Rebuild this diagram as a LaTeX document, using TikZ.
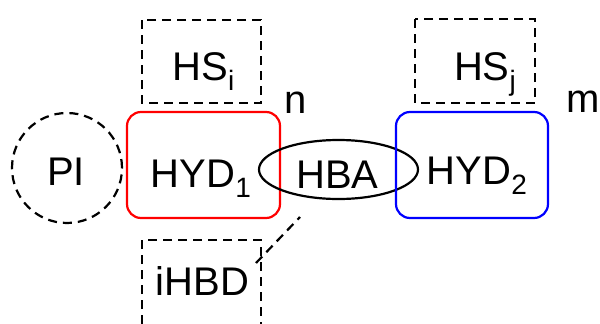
\documentclass[tikz,border=0pt]{standalone}
\usepackage{fontspec}
\setmainfont{Liberation Sans}
\usetikzlibrary{calc}
\newcommand{\lowsub}[1]{\raisebox{-10pt}{\fontsize{28}{28}\selectfont #1}}

\begin{document}
\begin{tikzpicture}[x=1pt, y=-1pt, line width=2.2pt,
		lbl/.style={anchor=base, inner sep=0pt, font=\fontsize{40}{48}\selectfont},
		dsh/.style={dash pattern=on 9pt off 6pt}]
			%%%%% START %%%%%
			
			\useasboundingbox (0, 0) rectangle (600, 324);
			
			\draw[dsh] (67, 168) circle (55pt);
			\node[lbl] (pi) at (66, 185) {PI};
			
			\draw[dsh] (142, 20) rectangle (261, 103);
			\node[lbl] (hsi) at (203.5, 80) {HS\lowsub{i}};
			
			\draw[red, rounded corners=14pt] (127, 112) rectangle (280, 218);
			\node[lbl] (hyda) at (201, 187) {HYD\lowsub{1}};
			
			\draw[dsh] (142, 324) -- (142, 240) -- (261, 240) -- (261, 324);
			\node[lbl] (ihbd) at (202.5, 295) {iHBD};
			
			\draw (338.5, 169.5) ellipse [x radius=79.5pt, y radius=29.5pt];
			\node[lbl] (hba) at (337.5, 188) {HBA};
			
			\draw[blue, rounded corners=14pt] (396, 112) rectangle (548, 218);
			\node[lbl] (hydb) at (477, 184) {HYD\lowsub{2}};
			
			\draw[dsh] (415, 19) rectangle (535, 103);
			\node[lbl] (hsj) at (485, 80) {HS\lowsub{j}};
			
			\node[lbl] (n) at (296, 113) {n};
			\node[lbl] (m) at (583, 112) {m};
			
			\coordinate (ihbdend) at (256, 263);
			\coordinate (hbaend) at (300, 217);
			\draw[dsh] (ihbdend) -- (hbaend);
			
			%%%%% END %%%%%
\end{tikzpicture}
\end{document}
